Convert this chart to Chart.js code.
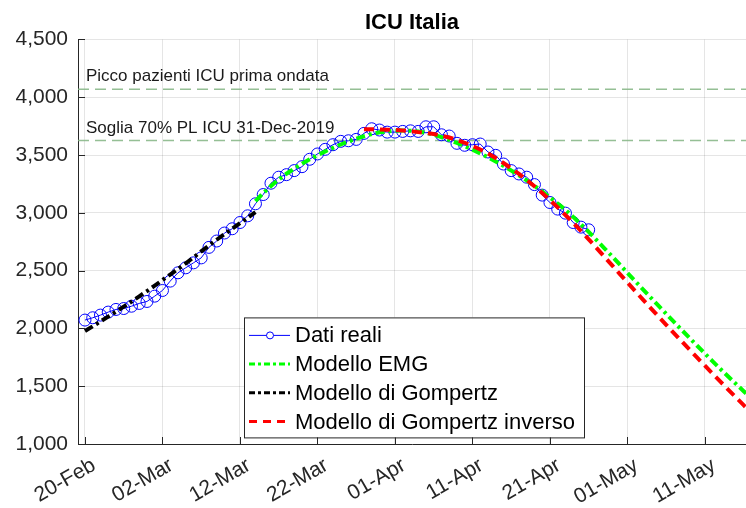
<!DOCTYPE html>
<html>
<head>
<meta charset="utf-8">
<title>ICU Italia</title>
<script src="https://cdn.jsdelivr.net/npm/chart.js@4.4.1/dist/chart.umd.min.js"></script>
<style>
  html, body { margin: 0; padding: 0; background: #ffffff; }
  #wrap { position: relative; width: 746px; height: 508px; }
</style>
</head>
<body>
<div id="wrap"><canvas id="chartICU"></canvas></div>
<script>
const FONT = "'Liberation Sans', Arial, Helvetica, sans-serif";
const AXIS_COLOR = "#262626";

// giorni contati da 20-Feb (giorno 0)
const tickDays = [0, 10, 20, 30, 40, 50, 60, 70, 80];
const tickLabels = ["20-Feb", "02-Mar", "12-Mar", "22-Mar", "01-Apr", "11-Apr", "21-Apr", "01-May", "11-May"];
const xRange = [-0.9, 85.3];

const realStart = 0;
const realValues = [
  2072, 2092, 2115, 2141, 2164, 2172, 2192, 2216, 2233, 2279,
  2328, 2409, 2481, 2524, 2567, 2610, 2701, 2756, 2825, 2862,
  2916, 2974, 3078, 3158, 3256, 3308, 3330, 3365, 3399, 3463,
  3509, 3549, 3589, 3618, 3623, 3635, 3687, 3727, 3716, 3698,
  3698, 3704, 3709, 3704, 3744, 3744, 3675, 3664, 3601, 3584,
  3589, 3595, 3526, 3497, 3422, 3365, 3336, 3308, 3244, 3153,
  3089, 3032, 2997, 2916, 2876, 2853
];

const gompertzStart = 0;
const gompertzValues = [
  1977, 2018, 2060, 2102, 2145, 2188, 2232, 2277, 2323, 2370,
  2418, 2466, 2514, 2563, 2614, 2666, 2717, 2767, 2815, 2862,
  2910, 2958, 3005
];

const emgStart = 22;
const emgValues = [
  3100, 3170, 3232, 3288, 3338, 3383, 3425, 3463, 3498, 3531,
  3562, 3591, 3617, 3641, 3662, 3681, 3696, 3705, 3710, 3712,
  3710, 3704, 3692, 3675, 3654, 3630, 3604, 3576, 3546, 3514,
  3480, 3444, 3406, 3366, 3324, 3280, 3234, 3185, 3132, 3080,
  3025, 2965, 2900, 2835, 2765, 2695, 2625, 2553, 2481, 2409,
  2338, 2267, 2196, 2126, 2056, 1987, 1918, 1850, 1782, 1715,
  1649, 1584, 1520, 1457, 1395
];

const inverseStart = 36;
const inverseValues = [
  3722, 3722, 3721, 3719, 3716, 3712, 3706, 3698, 3690, 3681,
  3668, 3651, 3630, 3606, 3579, 3548, 3513, 3474, 3431, 3385,
  3336, 3284, 3229, 3171, 3111, 3047, 2981, 2913, 2843, 2771,
  2697, 2622, 2547, 2472, 2397, 2323, 2249, 2176, 2103, 2031,
  1959, 1888, 1817, 1747, 1677, 1608, 1539, 1471, 1403, 1336,
  1269
];

const refValues = [4068, 3625];
const refLabels = ["Picco pazienti ICU prima ondata", "Soglia 70% PL ICU 31-Dec-2019"];

const legendLabels = ["Dati reali", "Modello EMG", "Modello di Gompertz", "Modello di Gompertz inverso"];

function series(start, values) {
  return values.map((value, i) => ({ x: start + i, y: value }));
}

function refLine(value) {
  return [{ x: xRange[0], y: value }, { x: xRange[1], y: value }];
}

const DASH_DOT = [9, 4, 3, 4];
const REF_COLOR = "rgba(130, 180, 130, 0.85)";

// etichette delle linee di riferimento
const refLabelPlugin = {
  id: "icuRefLabels",
  afterDatasetsDraw(chart) {
    const { ctx, chartArea, scales } = chart;
    ctx.save();
    ctx.fillStyle = "#1a1a1a";
    ctx.font = "17px " + FONT;
    ctx.textAlign = "left";
    ctx.textBaseline = "alphabetic";
    refValues.forEach((value, i) => {
      ctx.fillText(refLabels[i], chartArea.left + 8, scales.y.getPixelForValue(value) - 8);
    });
    ctx.restore();
  }
};

// tacche interne stile MATLAB + legenda
const frameLegendPlugin = {
  id: "icuFrameLegend",
  afterDraw(chart) {
    const { ctx, chartArea, scales } = chart;
    ctx.save();
    ctx.strokeStyle = AXIS_COLOR;
    ctx.lineWidth = 1;
    ctx.beginPath();
    tickDays.forEach((day) => {
      const px = Math.round(scales.x.getPixelForValue(day)) + 0.5;
      ctx.moveTo(px, chartArea.bottom);
      ctx.lineTo(px, chartArea.bottom - 7);
    });
    scales.y.ticks.forEach((tick) => {
      const py = Math.round(scales.y.getPixelForValue(tick.value)) + 0.5;
      ctx.moveTo(chartArea.left, py);
      ctx.lineTo(chartArea.left + 7, py);
    });
    ctx.stroke();

    const left = chartArea.left + 166;
    const top = chartArea.top + 278;
    const width = 340;
    const height = 120;
    ctx.fillStyle = "#ffffff";
    ctx.fillRect(left, top, width, height);
    ctx.strokeStyle = AXIS_COLOR;
    ctx.lineWidth = 1;
    ctx.strokeRect(left + 0.5, top + 0.5, width, height);

    const styles = [
      { color: "#0000ff", width: 1, dash: [], marker: true },
      { color: "#00ff00", width: 3, dash: [6, 3, 3, 3], marker: false },
      { color: "#000000", width: 3, dash: [6, 3, 3, 3], marker: false },
      { color: "#ff0000", width: 3, dash: [8, 6], marker: false }
    ];
    ctx.font = "22px " + FONT;
    ctx.textBaseline = "middle";
    ctx.textAlign = "left";
    legendLabels.forEach((label, i) => {
      const rowY = top + 18 + i * 28.7;
      const st = styles[i];
      ctx.save();
      ctx.strokeStyle = st.color;
      ctx.lineWidth = st.width;
      ctx.setLineDash(st.dash);
      ctx.beginPath();
      ctx.moveTo(left + 5, rowY);
      ctx.lineTo(left + 46, rowY);
      ctx.stroke();
      ctx.setLineDash([]);
      if (st.marker) {
        ctx.beginPath();
        ctx.arc(left + 26, rowY, 3.5, 0, Math.PI * 2);
        ctx.fillStyle = "#ffffff";
        ctx.fill();
        ctx.stroke();
      }
      ctx.restore();
      ctx.fillStyle = "#000000";
      ctx.fillText(label, left + 51, rowY + 1);
    });
    ctx.restore();
  }
};

new Chart(document.getElementById("chartICU"), {
  type: "line",
  plugins: [refLabelPlugin, frameLegendPlugin],
  data: {
    datasets: [
      {
        label: refLabels[0],
        data: refLine(refValues[0]),
        borderColor: REF_COLOR,
        borderWidth: 1.5,
        borderDash: [11, 6],
        pointRadius: 0,
        order: 6
      },
      {
        label: refLabels[1],
        data: refLine(refValues[1]),
        borderColor: REF_COLOR,
        borderWidth: 1.5,
        borderDash: [11, 6],
        pointRadius: 0,
        order: 5
      },
      {
        label: legendLabels[0],
        data: series(realStart, realValues),
        borderColor: "#0000ff",
        borderWidth: 1,
        pointRadius: 6,
        pointBorderColor: "#0000ff",
        pointBackgroundColor: "rgba(0,0,0,0)",
        pointBorderWidth: 1,
        order: 4
      },
      {
        label: legendLabels[1],
        data: series(emgStart, emgValues),
        borderColor: "#00ff00",
        borderWidth: 4,
        borderDash: DASH_DOT,
        pointRadius: 0,
        order: 3
      },
      {
        label: legendLabels[2],
        data: series(gompertzStart, gompertzValues),
        borderColor: "#000000",
        borderWidth: 4,
        borderDash: DASH_DOT,
        pointRadius: 0,
        order: 2
      },
      {
        label: legendLabels[3],
        data: series(inverseStart, inverseValues),
        borderColor: "#ff0000",
        borderWidth: 4,
        borderDash: [10, 6],
        pointRadius: 0,
        order: 1
      }
    ]
  },
  options: {
    responsive: true,
    maintainAspectRatio: false,
    animation: false,
    layout: { padding: 0, autoPadding: false },
    plugins: {
      legend: { display: false },
      tooltip: { enabled: false },
      title: {
        display: true,
        text: "ICU Italia",
        fullSize: false,
        color: "#000000",
        font: { family: FONT, size: 22, weight: "bold" },
        padding: { top: 10, bottom: 3 }
      }
    },
    scales: {
      x: {
        type: "linear",
        min: xRange[0],
        max: xRange[1],
        afterBuildTicks: (scale) => {
          scale.ticks = tickDays.map((day) => ({ value: day }));
        },
        afterFit: (scale) => {
          scale.height = 64;
          scale.paddingLeft = 0;
          scale.paddingRight = 0;
        },
        ticks: {
          autoSkip: false,
          minRotation: 30,
          maxRotation: 30,
          padding: 9,
          labelOffset: 9,
          color: AXIS_COLOR,
          font: { family: FONT, size: 21 },
          callback: (value, index) => tickLabels[index]
        },
        grid: { color: "rgba(0,0,0,0.1)", drawTicks: false },
        border: { color: AXIS_COLOR, width: 1 }
      },
      y: {
        min: 1000,
        max: 4500,
        afterFit: (scale) => {
          scale.width = 78;
          scale.paddingTop = 0;
          scale.paddingBottom = 0;
        },
        ticks: {
          stepSize: 500,
          padding: 10,
          color: AXIS_COLOR,
          font: { family: FONT, size: 21 },
          callback: (value) => value.toLocaleString("en-US")
        },
        grid: { color: "rgba(0,0,0,0.1)", drawTicks: false },
        border: { color: AXIS_COLOR, width: 1 }
      }
    }
  }
});
</script>
</body>
</html>
